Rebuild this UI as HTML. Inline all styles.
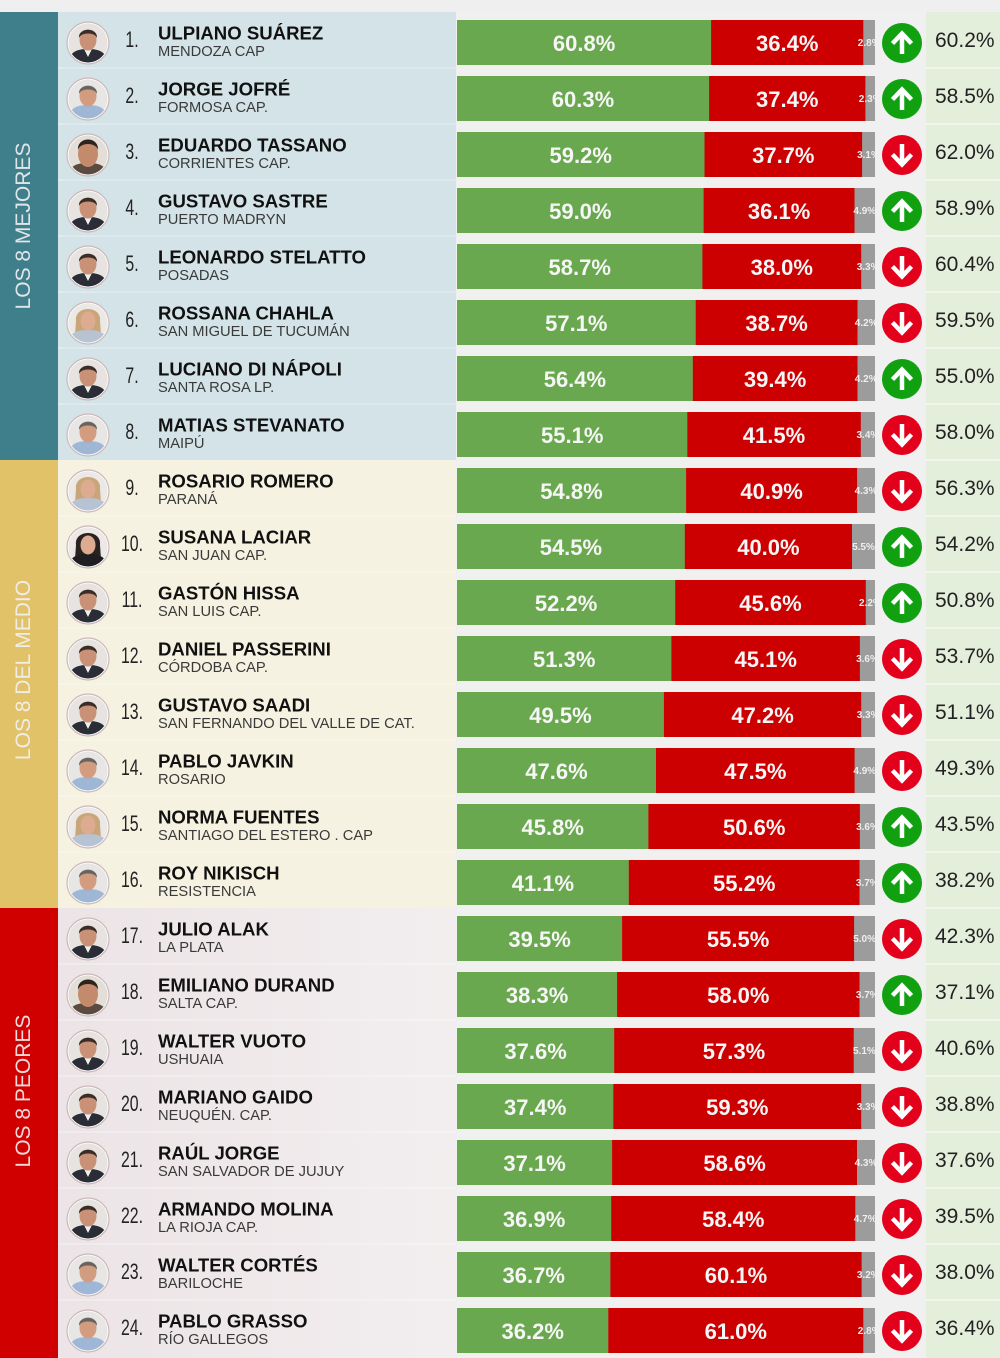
<!DOCTYPE html>
<html>
<head>
<meta charset="utf-8">
<style>
html,body{margin:0;padding:0;background:#efefef;}
svg{display:block;}
.num{font-family:"Liberation Sans",sans-serif;font-size:22px;fill:#222;text-anchor:middle;}
.nm{font-family:"Liberation Sans",sans-serif;font-weight:bold;font-size:18.6px;fill:#111;}
.sb{font-family:"Liberation Sans",sans-serif;font-size:14.7px;fill:#3a3a3a;}
.bl{font-family:"Liberation Sans",sans-serif;font-weight:bold;font-size:22px;fill:#f6f6f6;text-anchor:middle;}
.gl{font-family:"Liberation Sans",sans-serif;font-weight:bold;font-size:10px;fill:#eeeeee;text-anchor:middle;}
.rt{font-family:"Liberation Sans",sans-serif;font-size:21px;fill:#222;}
.vl{font-family:"Liberation Sans",sans-serif;font-size:21px;fill:#f2f2f2;fill-opacity:0.9;text-anchor:middle;}
</style>
</head>
<body>
<svg width="1000" height="1358" viewBox="0 0 1000 1358" xmlns="http://www.w3.org/2000/svg">
<defs>
<clipPath id="cc"><circle cx="0" cy="0" r="19.5"/></clipPath>
<clipPath id="bc"><rect x="457" y="8" width="418" height="45"/></clipPath>
<linearGradient id="pk" x1="0" y1="0" x2="1" y2="0"><stop offset="0" stop-color="#ece4e6"/><stop offset="1" stop-color="#f2eeef"/></linearGradient>
<g id="m1"><circle r="21" fill="#fafafa" stroke="#cbb9b9" stroke-width="1.2"/><g clip-path="url(#cc)"><rect x="-20" y="-20" width="40" height="40" fill="#e6e3e0"/><path d="M-20,20 C-18,8 -10,6 0,6 C10,6 18,8 20,20Z" fill="#2a2d36"/><path d="M-4,6 L0,14 L4,6Z" fill="#f0f0f0"/><ellipse cx="0" cy="-3" rx="8.5" ry="10.5" fill="#c99277"/><path d="M-9,-5 C-10,-16 10,-16 9,-5 C7,-11 -7,-11 -9,-5Z" fill="#3a2e28"/></g></g>
<g id="m2"><circle r="21" fill="#fafafa" stroke="#cbb9b9" stroke-width="1.2"/><g clip-path="url(#cc)"><rect x="-20" y="-20" width="40" height="40" fill="#e8e6e4"/><path d="M-20,20 C-18,8 -10,6 0,6 C10,6 18,8 20,20Z" fill="#9fb7d6"/><ellipse cx="0" cy="-3" rx="8.5" ry="10.5" fill="#d29c80"/><path d="M-9,-5 C-10,-16 10,-16 9,-5 C7,-11 -7,-11 -9,-5Z" fill="#6b6460"/></g></g>
<g id="m3"><circle r="21" fill="#fafafa" stroke="#cbb9b9" stroke-width="1.2"/><g clip-path="url(#cc)"><rect x="-20" y="-20" width="40" height="40" fill="#e4ded8"/><path d="M-20,20 C-18,10 -10,8 0,8 C10,8 18,10 20,20Z" fill="#5a4a40"/><ellipse cx="0" cy="-1" rx="10" ry="13" fill="#c48a6c"/><path d="M-10,-5 C-11,-19 11,-19 10,-5 C8,-13 -8,-13 -10,-5Z" fill="#2e241e"/></g></g>
<g id="w"><circle r="21" fill="#fafafa" stroke="#cbb9b9" stroke-width="1.2"/><g clip-path="url(#cc)"><rect x="-20" y="-20" width="40" height="40" fill="#ebe8e5"/><path d="M-12,-2 C-14,-18 14,-18 12,-2 L13,12 L-13,12Z" fill="#c9a57a"/><path d="M-20,20 C-18,9 -10,7 0,7 C10,7 18,9 20,20Z" fill="#b7c3d3"/><ellipse cx="0" cy="-2" rx="7.5" ry="9.5" fill="#dcab90"/></g></g>
<g id="wd"><circle r="21" fill="#fafafa" stroke="#cbb9b9" stroke-width="1.2"/><g clip-path="url(#cc)"><rect x="-20" y="-20" width="40" height="40" fill="#ebe8e5"/><path d="M-12,-2 C-14,-18 14,-18 12,-2 L13,12 L-13,12Z" fill="#2a2220"/><path d="M-20,20 C-18,9 -10,7 0,7 C10,7 18,9 20,20Z" fill="#1e1e22"/><ellipse cx="0" cy="-2" rx="7.5" ry="9.5" fill="#dcab90"/></g></g>
<g id="up"><circle r="20" fill="#10a010"/><path d="M0,11 V-7 M-9.5,0.5 L0,-9.5 L9.5,0.5" stroke="#ffffff" stroke-width="4.5" fill="none" stroke-linejoin="miter" stroke-linecap="butt"/></g>
<g id="dn"><circle r="20" fill="#e2001a"/><path d="M0,-11 V7 M-9.5,-0.5 L0,9.5 L9.5,-0.5" stroke="#ffffff" stroke-width="4.5" fill="none" stroke-linejoin="miter" stroke-linecap="butt"/></g>
</defs>

<rect x="0" y="0" width="1000" height="1358" fill="#efefef"/>
<rect x="0" y="12" width="58" height="448" fill="#3e7f8b"/>
<rect x="0" y="460" width="58" height="448" fill="#e1c268"/>
<rect x="0" y="908" width="58" height="450" fill="#d10000"/>
<rect x="58" y="12" width="398" height="448" fill="#d3e3e8"/>
<rect x="58" y="460" width="398" height="448" fill="#f6f2e1"/>
<rect x="58" y="908" width="398" height="450" fill="url(#pk)"/>
<rect x="456" y="12" width="470" height="1346" fill="#f1f0f0"/>
<rect x="926" y="12" width="74" height="1346" fill="#e3eedb"/>
<g stroke="#f3f7f0" stroke-width="1.5">
<line x1="926" y1="68" x2="1000" y2="68"/><line x1="926" y1="124" x2="1000" y2="124"/><line x1="926" y1="180" x2="1000" y2="180"/><line x1="926" y1="236" x2="1000" y2="236"/><line x1="926" y1="292" x2="1000" y2="292"/><line x1="926" y1="348" x2="1000" y2="348"/><line x1="926" y1="404" x2="1000" y2="404"/><line x1="926" y1="460" x2="1000" y2="460"/><line x1="926" y1="516" x2="1000" y2="516"/><line x1="926" y1="572" x2="1000" y2="572"/><line x1="926" y1="628" x2="1000" y2="628"/><line x1="926" y1="684" x2="1000" y2="684"/><line x1="926" y1="740" x2="1000" y2="740"/><line x1="926" y1="796" x2="1000" y2="796"/><line x1="926" y1="852" x2="1000" y2="852"/><line x1="926" y1="908" x2="1000" y2="908"/><line x1="926" y1="964" x2="1000" y2="964"/><line x1="926" y1="1020" x2="1000" y2="1020"/><line x1="926" y1="1076" x2="1000" y2="1076"/><line x1="926" y1="1132" x2="1000" y2="1132"/><line x1="926" y1="1188" x2="1000" y2="1188"/><line x1="926" y1="1244" x2="1000" y2="1244"/><line x1="926" y1="1300" x2="1000" y2="1300"/>
</g>
<g stroke="#ffffff" stroke-opacity="0.35" stroke-width="1.5">
<line x1="58" y1="68" x2="456" y2="68"/><line x1="58" y1="124" x2="456" y2="124"/><line x1="58" y1="180" x2="456" y2="180"/><line x1="58" y1="236" x2="456" y2="236"/><line x1="58" y1="292" x2="456" y2="292"/><line x1="58" y1="348" x2="456" y2="348"/><line x1="58" y1="404" x2="456" y2="404"/><line x1="58" y1="516" x2="456" y2="516"/><line x1="58" y1="572" x2="456" y2="572"/><line x1="58" y1="628" x2="456" y2="628"/><line x1="58" y1="684" x2="456" y2="684"/><line x1="58" y1="740" x2="456" y2="740"/><line x1="58" y1="796" x2="456" y2="796"/><line x1="58" y1="852" x2="456" y2="852"/><line x1="58" y1="964" x2="456" y2="964"/><line x1="58" y1="1020" x2="456" y2="1020"/><line x1="58" y1="1076" x2="456" y2="1076"/><line x1="58" y1="1132" x2="456" y2="1132"/><line x1="58" y1="1188" x2="456" y2="1188"/><line x1="58" y1="1244" x2="456" y2="1244"/><line x1="58" y1="1300" x2="456" y2="1300"/>
</g>

<text class="vl" transform="translate(30,226) rotate(-90)">LOS 8 MEJORES</text>
<text class="vl" transform="translate(30,670) rotate(-90)">LOS 8 DEL MEDIO</text>
<text class="vl" transform="translate(30,1091) rotate(-90)">LOS 8 PEORES</text>

<g transform="translate(0,12)">
<use href="#m1" x="88" y="31"/>
<text class="num" transform="translate(132,35) scale(0.72,1)">1.</text>
<text class="nm" x="158" y="27.5">ULPIANO SUÁREZ</text>
<text class="sb" x="158" y="44">MENDOZA CAP</text>
<g clip-path="url(#bc)"><rect x="457" y="8" width="418" height="45" fill="#9c9c9c"/><rect x="457" y="8" width="254.1" height="45" fill="#6aa84f"/><rect x="711.1" y="8" width="152.2" height="45" fill="#cc0000"/><text class="gl" x="869.2" y="34">2.8%</text></g>
<text class="bl" x="584.1" y="39">60.8%</text><text class="bl" x="787.2" y="39">36.4%</text>
<use href="#up" x="902" y="31"/>
<text class="rt" x="935" y="35">60.2%</text>
</g>

<g transform="translate(0,68)">
<use href="#m2" x="88" y="31"/>
<text class="num" transform="translate(132,35) scale(0.72,1)">2.</text>
<text class="nm" x="158" y="27.5">JORGE JOFRÉ</text>
<text class="sb" x="158" y="44">FORMOSA CAP.</text>
<g clip-path="url(#bc)"><rect x="457" y="8" width="418" height="45" fill="#9c9c9c"/><rect x="457" y="8" width="252.1" height="45" fill="#6aa84f"/><rect x="709.1" y="8" width="156.3" height="45" fill="#cc0000"/><text class="gl" x="870.2" y="34">2.3%</text></g>
<text class="bl" x="583.0" y="39">60.3%</text><text class="bl" x="787.2" y="39">37.4%</text>
<use href="#up" x="902" y="31"/>
<text class="rt" x="935" y="35">58.5%</text>
</g>

<g transform="translate(0,124)">
<use href="#m3" x="88" y="31"/>
<text class="num" transform="translate(132,35) scale(0.72,1)">3.</text>
<text class="nm" x="158" y="27.5">EDUARDO TASSANO</text>
<text class="sb" x="158" y="44">CORRIENTES CAP.</text>
<g clip-path="url(#bc)"><rect x="457" y="8" width="418" height="45" fill="#9c9c9c"/><rect x="457" y="8" width="247.5" height="45" fill="#6aa84f"/><rect x="704.5" y="8" width="157.6" height="45" fill="#cc0000"/><text class="gl" x="868.5" y="34">3.1%</text></g>
<text class="bl" x="580.7" y="39">59.2%</text><text class="bl" x="783.3" y="39">37.7%</text>
<use href="#dn" x="902" y="31"/>
<text class="rt" x="935" y="35">62.0%</text>
</g>

<g transform="translate(0,180)">
<use href="#m1" x="88" y="31"/>
<text class="num" transform="translate(132,35) scale(0.72,1)">4.</text>
<text class="nm" x="158" y="27.5">GUSTAVO SASTRE</text>
<text class="sb" x="158" y="44">PUERTO MADRYN</text>
<g clip-path="url(#bc)"><rect x="457" y="8" width="418" height="45" fill="#9c9c9c"/><rect x="457" y="8" width="246.6" height="45" fill="#6aa84f"/><rect x="703.6" y="8" width="150.9" height="45" fill="#cc0000"/><text class="gl" x="864.8" y="34">4.9%</text></g>
<text class="bl" x="580.3" y="39">59.0%</text><text class="bl" x="779.1" y="39">36.1%</text>
<use href="#up" x="902" y="31"/>
<text class="rt" x="935" y="35">58.9%</text>
</g>

<g transform="translate(0,236)">
<use href="#m1" x="88" y="31"/>
<text class="num" transform="translate(132,35) scale(0.72,1)">5.</text>
<text class="nm" x="158" y="27.5">LEONARDO STELATTO</text>
<text class="sb" x="158" y="44">POSADAS</text>
<g clip-path="url(#bc)"><rect x="457" y="8" width="418" height="45" fill="#9c9c9c"/><rect x="457" y="8" width="245.4" height="45" fill="#6aa84f"/><rect x="702.4" y="8" width="158.8" height="45" fill="#cc0000"/><text class="gl" x="868.1" y="34">3.3%</text></g>
<text class="bl" x="579.7" y="39">58.7%</text><text class="bl" x="781.8" y="39">38.0%</text>
<use href="#dn" x="902" y="31"/>
<text class="rt" x="935" y="35">60.4%</text>
</g>

<g transform="translate(0,292)">
<use href="#w" x="88" y="31"/>
<text class="num" transform="translate(132,35) scale(0.72,1)">6.</text>
<text class="nm" x="158" y="27.5">ROSSANA CHAHLA</text>
<text class="sb" x="158" y="44">SAN MIGUEL DE TUCUMÁN</text>
<g clip-path="url(#bc)"><rect x="457" y="8" width="418" height="45" fill="#9c9c9c"/><rect x="457" y="8" width="238.7" height="45" fill="#6aa84f"/><rect x="695.7" y="8" width="161.8" height="45" fill="#cc0000"/><text class="gl" x="866.2" y="34">4.2%</text></g>
<text class="bl" x="576.3" y="39">57.1%</text><text class="bl" x="776.6" y="39">38.7%</text>
<use href="#dn" x="902" y="31"/>
<text class="rt" x="935" y="35">59.5%</text>
</g>

<g transform="translate(0,348)">
<use href="#m1" x="88" y="31"/>
<text class="num" transform="translate(132,35) scale(0.72,1)">7.</text>
<text class="nm" x="158" y="27.5">LUCIANO DI NÁPOLI</text>
<text class="sb" x="158" y="44">SANTA ROSA LP.</text>
<g clip-path="url(#bc)"><rect x="457" y="8" width="418" height="45" fill="#9c9c9c"/><rect x="457" y="8" width="235.8" height="45" fill="#6aa84f"/><rect x="692.8" y="8" width="164.7" height="45" fill="#cc0000"/><text class="gl" x="866.2" y="34">4.2%</text></g>
<text class="bl" x="574.9" y="39">56.4%</text><text class="bl" x="775.1" y="39">39.4%</text>
<use href="#up" x="902" y="31"/>
<text class="rt" x="935" y="35">55.0%</text>
</g>

<g transform="translate(0,404)">
<use href="#m2" x="88" y="31"/>
<text class="num" transform="translate(132,35) scale(0.72,1)">8.</text>
<text class="nm" x="158" y="27.5">MATIAS STEVANATO</text>
<text class="sb" x="158" y="44">MAIPÚ</text>
<g clip-path="url(#bc)"><rect x="457" y="8" width="418" height="45" fill="#9c9c9c"/><rect x="457" y="8" width="230.3" height="45" fill="#6aa84f"/><rect x="687.3" y="8" width="173.5" height="45" fill="#cc0000"/><text class="gl" x="867.9" y="34">3.4%</text></g>
<text class="bl" x="572.2" y="39">55.1%</text><text class="bl" x="774.0" y="39">41.5%</text>
<use href="#dn" x="902" y="31"/>
<text class="rt" x="935" y="35">58.0%</text>
</g>

<g transform="translate(0,460)">
<use href="#w" x="88" y="31"/>
<text class="num" transform="translate(132,35) scale(0.72,1)">9.</text>
<text class="nm" x="158" y="27.5">ROSARIO ROMERO</text>
<text class="sb" x="158" y="44">PARANÁ</text>
<g clip-path="url(#bc)"><rect x="457" y="8" width="418" height="45" fill="#9c9c9c"/><rect x="457" y="8" width="229.1" height="45" fill="#6aa84f"/><rect x="686.1" y="8" width="171.0" height="45" fill="#cc0000"/><text class="gl" x="866.0" y="34">4.3%</text></g>
<text class="bl" x="571.5" y="39">54.8%</text><text class="bl" x="771.6" y="39">40.9%</text>
<use href="#dn" x="902" y="31"/>
<text class="rt" x="935" y="35">56.3%</text>
</g>

<g transform="translate(0,516)">
<use href="#wd" x="88" y="31"/>
<text class="num" transform="translate(132,35) scale(0.72,1)">10.</text>
<text class="nm" x="158" y="27.5">SUSANA LACIAR</text>
<text class="sb" x="158" y="44">SAN JUAN CAP.</text>
<g clip-path="url(#bc)"><rect x="457" y="8" width="418" height="45" fill="#9c9c9c"/><rect x="457" y="8" width="227.8" height="45" fill="#6aa84f"/><rect x="684.8" y="8" width="167.2" height="45" fill="#cc0000"/><text class="gl" x="863.5" y="34">5.5%</text></g>
<text class="bl" x="570.9" y="39">54.5%</text><text class="bl" x="768.4" y="39">40.0%</text>
<use href="#up" x="902" y="31"/>
<text class="rt" x="935" y="35">54.2%</text>
</g>

<g transform="translate(0,572)">
<use href="#m1" x="88" y="31"/>
<text class="num" transform="translate(132,35) scale(0.72,1)">11.</text>
<text class="nm" x="158" y="27.5">GASTÓN HISSA</text>
<text class="sb" x="158" y="44">SAN LUIS CAP.</text>
<g clip-path="url(#bc)"><rect x="457" y="8" width="418" height="45" fill="#9c9c9c"/><rect x="457" y="8" width="218.2" height="45" fill="#6aa84f"/><rect x="675.2" y="8" width="190.6" height="45" fill="#cc0000"/><text class="gl" x="870.4" y="34">2.2%</text></g>
<text class="bl" x="566.1" y="39">52.2%</text><text class="bl" x="770.5" y="39">45.6%</text>
<use href="#up" x="902" y="31"/>
<text class="rt" x="935" y="35">50.8%</text>
</g>

<g transform="translate(0,628)">
<use href="#m1" x="88" y="31"/>
<text class="num" transform="translate(132,35) scale(0.72,1)">12.</text>
<text class="nm" x="158" y="27.5">DANIEL PASSERINI</text>
<text class="sb" x="158" y="44">CÓRDOBA CAP.</text>
<g clip-path="url(#bc)"><rect x="457" y="8" width="418" height="45" fill="#9c9c9c"/><rect x="457" y="8" width="214.4" height="45" fill="#6aa84f"/><rect x="671.4" y="8" width="188.5" height="45" fill="#cc0000"/><text class="gl" x="867.5" y="34">3.6%</text></g>
<text class="bl" x="564.2" y="39">51.3%</text><text class="bl" x="765.7" y="39">45.1%</text>
<use href="#dn" x="902" y="31"/>
<text class="rt" x="935" y="35">53.7%</text>
</g>

<g transform="translate(0,684)">
<use href="#m1" x="88" y="31"/>
<text class="num" transform="translate(132,35) scale(0.72,1)">13.</text>
<text class="nm" x="158" y="27.5">GUSTAVO SAADI</text>
<text class="sb" x="158" y="44">SAN FERNANDO DEL VALLE DE CAT.</text>
<g clip-path="url(#bc)"><rect x="457" y="8" width="418" height="45" fill="#9c9c9c"/><rect x="457" y="8" width="206.9" height="45" fill="#6aa84f"/><rect x="663.9" y="8" width="197.3" height="45" fill="#cc0000"/><text class="gl" x="868.1" y="34">3.3%</text></g>
<text class="bl" x="560.5" y="39">49.5%</text><text class="bl" x="762.6" y="39">47.2%</text>
<use href="#dn" x="902" y="31"/>
<text class="rt" x="935" y="35">51.1%</text>
</g>

<g transform="translate(0,740)">
<use href="#m2" x="88" y="31"/>
<text class="num" transform="translate(132,35) scale(0.72,1)">14.</text>
<text class="nm" x="158" y="27.5">PABLO JAVKIN</text>
<text class="sb" x="158" y="44">ROSARIO</text>
<g clip-path="url(#bc)"><rect x="457" y="8" width="418" height="45" fill="#9c9c9c"/><rect x="457" y="8" width="199.0" height="45" fill="#6aa84f"/><rect x="656.0" y="8" width="198.6" height="45" fill="#cc0000"/><text class="gl" x="864.8" y="34">4.9%</text></g>
<text class="bl" x="556.5" y="39">47.6%</text><text class="bl" x="755.3" y="39">47.5%</text>
<use href="#dn" x="902" y="31"/>
<text class="rt" x="935" y="35">49.3%</text>
</g>

<g transform="translate(0,796)">
<use href="#w" x="88" y="31"/>
<text class="num" transform="translate(132,35) scale(0.72,1)">15.</text>
<text class="nm" x="158" y="27.5">NORMA FUENTES</text>
<text class="sb" x="158" y="44">SANTIAGO DEL ESTERO . CAP</text>
<g clip-path="url(#bc)"><rect x="457" y="8" width="418" height="45" fill="#9c9c9c"/><rect x="457" y="8" width="191.4" height="45" fill="#6aa84f"/><rect x="648.4" y="8" width="211.5" height="45" fill="#cc0000"/><text class="gl" x="867.5" y="34">3.6%</text></g>
<text class="bl" x="552.7" y="39">45.8%</text><text class="bl" x="754.2" y="39">50.6%</text>
<use href="#up" x="902" y="31"/>
<text class="rt" x="935" y="35">43.5%</text>
</g>

<g transform="translate(0,852)">
<use href="#m2" x="88" y="31"/>
<text class="num" transform="translate(132,35) scale(0.72,1)">16.</text>
<text class="nm" x="158" y="27.5">ROY NIKISCH</text>
<text class="sb" x="158" y="44">RESISTENCIA</text>
<g clip-path="url(#bc)"><rect x="457" y="8" width="418" height="45" fill="#9c9c9c"/><rect x="457" y="8" width="171.8" height="45" fill="#6aa84f"/><rect x="628.8" y="8" width="230.7" height="45" fill="#cc0000"/><text class="gl" x="867.3" y="34">3.7%</text></g>
<text class="bl" x="542.9" y="39">41.1%</text><text class="bl" x="744.2" y="39">55.2%</text>
<use href="#up" x="902" y="31"/>
<text class="rt" x="935" y="35">38.2%</text>
</g>

<g transform="translate(0,908)">
<use href="#m1" x="88" y="31"/>
<text class="num" transform="translate(132,35) scale(0.72,1)">17.</text>
<text class="nm" x="158" y="27.5">JULIO ALAK</text>
<text class="sb" x="158" y="44">LA PLATA</text>
<g clip-path="url(#bc)"><rect x="457" y="8" width="418" height="45" fill="#9c9c9c"/><rect x="457" y="8" width="165.1" height="45" fill="#6aa84f"/><rect x="622.1" y="8" width="232.0" height="45" fill="#cc0000"/><text class="gl" x="864.6" y="34">5.0%</text></g>
<text class="bl" x="539.6" y="39">39.5%</text><text class="bl" x="738.1" y="39">55.5%</text>
<use href="#dn" x="902" y="31"/>
<text class="rt" x="935" y="35">42.3%</text>
</g>

<g transform="translate(0,964)">
<use href="#m3" x="88" y="31"/>
<text class="num" transform="translate(132,35) scale(0.72,1)">18.</text>
<text class="nm" x="158" y="27.5">EMILIANO DURAND</text>
<text class="sb" x="158" y="44">SALTA CAP.</text>
<g clip-path="url(#bc)"><rect x="457" y="8" width="418" height="45" fill="#9c9c9c"/><rect x="457" y="8" width="160.1" height="45" fill="#6aa84f"/><rect x="617.1" y="8" width="242.4" height="45" fill="#cc0000"/><text class="gl" x="867.3" y="34">3.7%</text></g>
<text class="bl" x="537.1" y="39">38.3%</text><text class="bl" x="738.3" y="39">58.0%</text>
<use href="#up" x="902" y="31"/>
<text class="rt" x="935" y="35">37.1%</text>
</g>

<g transform="translate(0,1020)">
<use href="#m1" x="88" y="31"/>
<text class="num" transform="translate(132,35) scale(0.72,1)">19.</text>
<text class="nm" x="158" y="27.5">WALTER VUOTO</text>
<text class="sb" x="158" y="44">USHUAIA</text>
<g clip-path="url(#bc)"><rect x="457" y="8" width="418" height="45" fill="#9c9c9c"/><rect x="457" y="8" width="157.2" height="45" fill="#6aa84f"/><rect x="614.2" y="8" width="239.5" height="45" fill="#cc0000"/><text class="gl" x="864.4" y="34">5.1%</text></g>
<text class="bl" x="535.6" y="39">37.6%</text><text class="bl" x="734.0" y="39">57.3%</text>
<use href="#dn" x="902" y="31"/>
<text class="rt" x="935" y="35">40.6%</text>
</g>

<g transform="translate(0,1076)">
<use href="#m1" x="88" y="31"/>
<text class="num" transform="translate(132,35) scale(0.72,1)">20.</text>
<text class="nm" x="158" y="27.5">MARIANO GAIDO</text>
<text class="sb" x="158" y="44">NEUQUÉN. CAP.</text>
<g clip-path="url(#bc)"><rect x="457" y="8" width="418" height="45" fill="#9c9c9c"/><rect x="457" y="8" width="156.3" height="45" fill="#6aa84f"/><rect x="613.3" y="8" width="247.9" height="45" fill="#cc0000"/><text class="gl" x="868.1" y="34">3.3%</text></g>
<text class="bl" x="535.2" y="39">37.4%</text><text class="bl" x="737.3" y="39">59.3%</text>
<use href="#dn" x="902" y="31"/>
<text class="rt" x="935" y="35">38.8%</text>
</g>

<g transform="translate(0,1132)">
<use href="#m1" x="88" y="31"/>
<text class="num" transform="translate(132,35) scale(0.72,1)">21.</text>
<text class="nm" x="158" y="27.5">RAÚL JORGE</text>
<text class="sb" x="158" y="44">SAN SALVADOR DE JUJUY</text>
<g clip-path="url(#bc)"><rect x="457" y="8" width="418" height="45" fill="#9c9c9c"/><rect x="457" y="8" width="155.1" height="45" fill="#6aa84f"/><rect x="612.1" y="8" width="244.9" height="45" fill="#cc0000"/><text class="gl" x="866.0" y="34">4.3%</text></g>
<text class="bl" x="534.6" y="39">37.1%</text><text class="bl" x="734.6" y="39">58.6%</text>
<use href="#dn" x="902" y="31"/>
<text class="rt" x="935" y="35">37.6%</text>
</g>

<g transform="translate(0,1188)">
<use href="#m1" x="88" y="31"/>
<text class="num" transform="translate(132,35) scale(0.72,1)">22.</text>
<text class="nm" x="158" y="27.5">ARMANDO MOLINA</text>
<text class="sb" x="158" y="44">LA RIOJA CAP.</text>
<g clip-path="url(#bc)"><rect x="457" y="8" width="418" height="45" fill="#9c9c9c"/><rect x="457" y="8" width="154.2" height="45" fill="#6aa84f"/><rect x="611.2" y="8" width="244.1" height="45" fill="#cc0000"/><text class="gl" x="865.2" y="34">4.7%</text></g>
<text class="bl" x="534.1" y="39">36.9%</text><text class="bl" x="733.3" y="39">58.4%</text>
<use href="#dn" x="902" y="31"/>
<text class="rt" x="935" y="35">39.5%</text>
</g>

<g transform="translate(0,1244)">
<use href="#m2" x="88" y="31"/>
<text class="num" transform="translate(132,35) scale(0.72,1)">23.</text>
<text class="nm" x="158" y="27.5">WALTER CORTÉS</text>
<text class="sb" x="158" y="44">BARILOCHE</text>
<g clip-path="url(#bc)"><rect x="457" y="8" width="418" height="45" fill="#9c9c9c"/><rect x="457" y="8" width="153.4" height="45" fill="#6aa84f"/><rect x="610.4" y="8" width="251.2" height="45" fill="#cc0000"/><text class="gl" x="868.3" y="34">3.2%</text></g>
<text class="bl" x="533.7" y="39">36.7%</text><text class="bl" x="736.0" y="39">60.1%</text>
<use href="#dn" x="902" y="31"/>
<text class="rt" x="935" y="35">38.0%</text>
</g>

<g transform="translate(0,1300)">
<use href="#m2" x="88" y="31"/>
<text class="num" transform="translate(132,35) scale(0.72,1)">24.</text>
<text class="nm" x="158" y="27.5">PABLO GRASSO</text>
<text class="sb" x="158" y="44">RÍO GALLEGOS</text>
<g clip-path="url(#bc)"><rect x="457" y="8" width="418" height="45" fill="#9c9c9c"/><rect x="457" y="8" width="151.3" height="45" fill="#6aa84f"/><rect x="608.3" y="8" width="255.0" height="45" fill="#cc0000"/><text class="gl" x="869.2" y="34">2.8%</text></g>
<text class="bl" x="532.7" y="39">36.2%</text><text class="bl" x="735.8" y="39">61.0%</text>
<use href="#dn" x="902" y="31"/>
<text class="rt" x="935" y="35">36.4%</text>
</g>
</svg>
</body>
</html>
